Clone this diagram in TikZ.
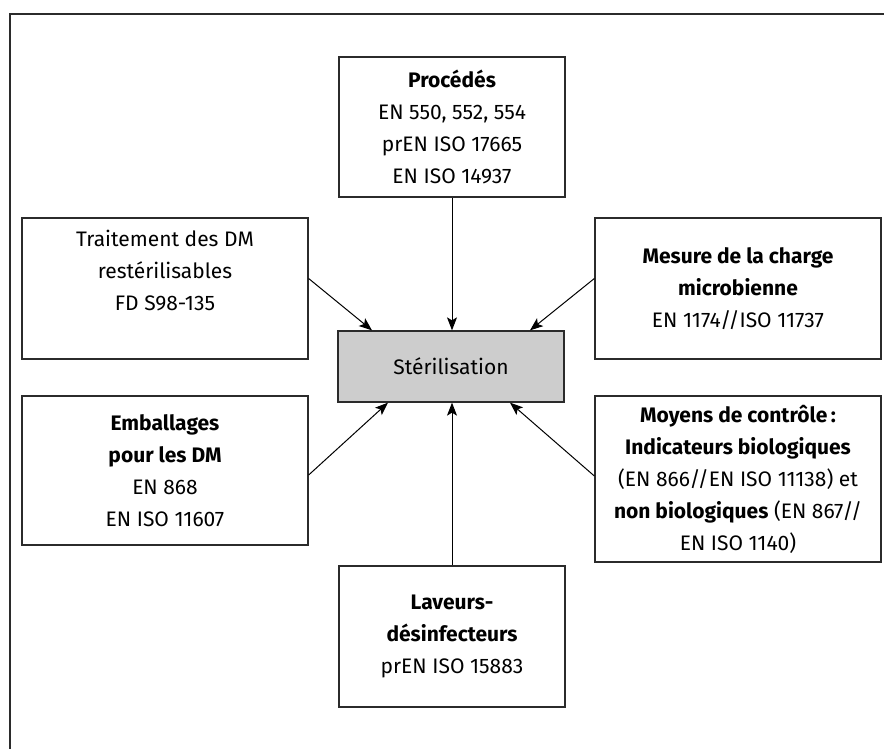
\documentclass[tikz,border=0pt]{standalone}
\usepackage{fontspec}
\setmainfont{Fira Sans}
\usetikzlibrary{arrows.meta}
\definecolor{edge}{HTML}{2B2B2B}
\definecolor{stfill}{HTML}{CDCDCD}
\begin{document}
\begin{tikzpicture}[x=1pt,y=-1pt,
  box/.style={draw=edge,line width=1.3pt,rectangle,inner sep=0pt,align=center,
    font=\fontsize{21}{32}\selectfont},
  txt/.style={inner sep=0pt,align=center,font=\fontsize{21}{32}\selectfont},
  arr/.style={draw=black,line width=1pt,-{Stealth[length=13pt,width=10pt,inset=3pt]}},
  frame/.style={draw=edge,line width=1.8pt}]
\useasboundingbox (0,0) rectangle (884,749);
% outer frame (top and left only)
\coordinate (fTR) at (884,14);
\coordinate (fTL) at (10,14);
\coordinate (fBL) at (10,749);
\draw[frame] (fTR) -- (fTL) -- (fBL);
% boxes
\node[box,minimum width=226pt,minimum height=140pt] (proc) at (452,127)
  {\textbf{Procédés}\\EN 550, 552, 554\\prEN ISO 17665\\EN ISO 14937};
\node[box,minimum width=286pt,minimum height=141pt] (trait) at (165,288.5) {};
\node[txt] (traitT) at (165,271) {Traitement des DM\\restérilisables\\FD S98-135};
\node[box,minimum width=286pt,minimum height=141pt] (mes) at (738,288.5)
  {\textbf{Mesure de la charge}\\\textbf{microbienne}\\EN 1174//ISO 11737};
\node[box,fill=stfill,minimum width=226pt,minimum height=71pt] (ster) at (451,366.5)
  {Stérilisation};
\node[box,minimum width=286pt,minimum height=149pt] (emb) at (165,470.5)
  {\textbf{Emballages}\\\textbf{pour les DM}\\EN 868\\EN ISO 11607};
\node[box,minimum width=286pt,minimum height=166pt] (moy) at (738,479)
  {\textbf{Moyens de contrôle\,:}\\\textbf{Indicateurs biologiques}\\(EN 866//EN ISO 11138) et\\\textbf{non biologiques} (EN 867//\\EN ISO 1140)};
\node[box,minimum width=226pt,minimum height=141pt] (lav) at (452,636.5)
  {\textbf{Laveurs-}\\\textbf{désinfecteurs}\\prEN ISO 15883};
% connectors
\draw[arr] (proc.south) -- (proc.south |- ster.north);
\draw[arr] ([yshift=10pt]trait.east) -- ([xshift=-79pt]ster.north);
\draw[arr] ([yshift=10pt]mes.west) -- ([xshift=79pt]ster.north);
\draw[arr] ([yshift=-4.5pt]emb.east) -- ([xshift=-63pt]ster.south);
\draw[arr] ([yshift=3pt]moy.west) -- ([xshift=59pt]ster.south);
\draw[arr] (lav.north) -- (lav.north |- ster.south);
\end{tikzpicture}
\end{document}
